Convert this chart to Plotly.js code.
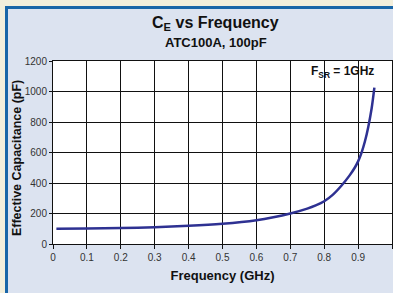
<!DOCTYPE html>
<html><head><meta charset="utf-8">
<script src="https://cdn.plot.ly/plotly-3.0.1.min.js"></script>
<style>
html,body{margin:0;padding:0;background:#f3efdc;width:393px;height:293px;overflow:hidden;}
#frame{position:absolute;left:5px;top:6px;width:400px;height:300px;background:#dce3f0;border-left:3px solid #1a66a8;border-top:3px solid #1a66a8;}
#plot{position:absolute;left:0;top:0;width:393px;height:293px;}
</style></head>
<body>
<div id="frame"></div>
<div id="plot"></div>
<script>
const freqGHz = [0.01, 0.1, 0.2, 0.3, 0.4, 0.5, 0.6, 0.65, 0.7, 0.75, 0.775, 0.8, 0.825, 0.85, 0.875, 0.89, 0.9, 0.91, 0.92, 0.93, 0.94, 0.948];
const capPF   = [100, 101, 105, 110, 119, 133, 156, 175, 200, 232, 253, 280, 322, 380, 450, 500, 542, 598, 672, 768, 890, 1025];
const xTicks = [0, 0.1, 0.2, 0.3, 0.4, 0.5, 0.6, 0.7, 0.8, 0.9, 1];
const xTickText = ['0', '0.1', '0.2', '0.3', '0.4', '0.5', '0.6', '0.7', '0.8', '0.9', '1'];
const yTicks = [0, 200, 400, 600, 800, 1000, 1200];
const titleText = 'C<sub>E</sub> vs Frequency';
const subtitleText = 'ATC100A, 100pF';
const yTitleText = 'Effective Capacitance (pF)';
const xTitleText = 'Frequency (GHz)';
const noteText = 'F<sub>SR</sub> = 1GHz';

const trace = {
  x: freqGHz, y: capPF, type: 'scatter', mode: 'lines',
  line: {color: '#2e3192', width: 2.5, shape: 'spline', smoothing: 0.8},
  hoverinfo: 'skip'
};
const font = 'Liberation Sans, Arial, sans-serif';
const layout = {
  width: 393, height: 293,
  margin: {l: 53, r: 1, t: 61, b: 49},
  paper_bgcolor: 'rgba(0,0,0,0)',
  plot_bgcolor: '#ffffff',
  showlegend: false,
  font: {family: font, color: '#333', size: 10},
  xaxis: {
    range: [0, 1], tickvals: xTicks, ticktext: xTickText,
    showgrid: true, gridcolor: '#111', gridwidth: 1,
    showline: true, linecolor: '#111', linewidth: 1, mirror: true,
    ticks: 'outside', ticklen: 4, tickcolor: '#111',
    tickfont: {family: font, size: 10, color: '#333'},
    zeroline: false,
    title: {text: '<b>' + xTitleText + '</b>', font: {family: font, size: 13, color: '#111'}, standoff: 8}
  },
  yaxis: {
    range: [0, 1200], tickvals: yTicks,
    showgrid: true, gridcolor: '#111', gridwidth: 1,
    showline: true, linecolor: '#111', linewidth: 1, mirror: true,
    ticks: 'outside', ticklen: 3, tickcolor: '#111',
    tickfont: {family: font, size: 10, color: '#333'},
    zeroline: false
  },
  annotations: [
    {text: '<b>' + titleText + '</b>', xref: 'paper', yref: 'paper', x: 0.48, y: 1.205,
     showarrow: false, font: {family: font, size: 16, color: '#111'}, xanchor: 'center', yanchor: 'middle'},
    {text: '<b>' + subtitleText + '</b>', xref: 'paper', yref: 'paper', x: 0.48, y: 1.103,
     showarrow: false, font: {family: font, size: 13, color: '#111'}, xanchor: 'center', yanchor: 'middle'},
    {text: '<b>' + yTitleText + '</b>', xref: 'paper', yref: 'paper', x: -0.106, y: 0.47, textangle: -90,
     showarrow: false, font: {family: font, size: 12.5, color: '#111'}, xanchor: 'center', yanchor: 'middle'},
    {text: '<b>' + noteText + '</b>', xref: 'x', yref: 'y', x: 0.855, y: 1125,
     showarrow: false, font: {family: font, size: 12, color: '#111'}, xanchor: 'center', yanchor: 'middle'}
  ]
};
Plotly.newPlot('plot', [trace], layout, {displayModeBar: false, staticPlot: true});
</script>
</body></html>
